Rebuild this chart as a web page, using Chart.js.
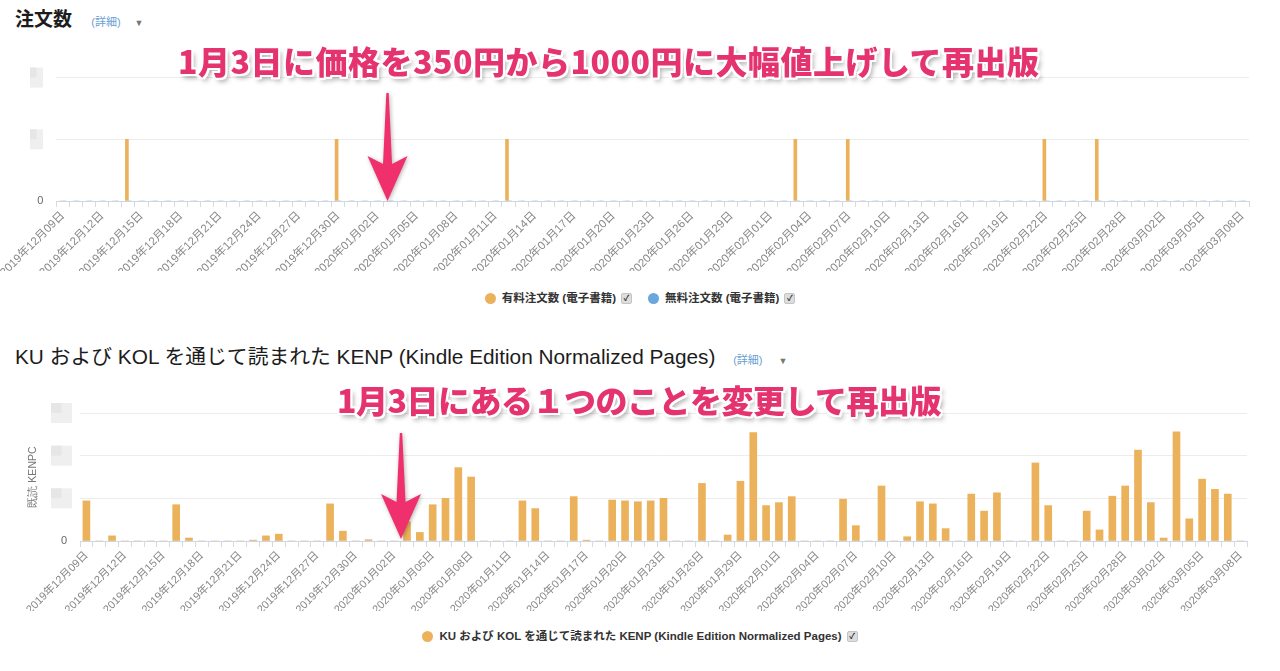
<!DOCTYPE html>
<html lang="ja">
<head>
  <meta charset="UTF-8">
  <title>注文数 / KENP</title>
  <script src="https://cdn.jsdelivr.net/npm/chart.js"></script>
  <style>
    body {
      margin: 0;
      width: 1280px;
      height: 671px;
      position: relative;
      overflow: hidden;
      background: #fff;
      font-family: "Liberation Sans", "Noto Sans CJK JP", sans-serif;
    }
    canvas { position: absolute; left: 0; }
    .title {
      position: absolute;
      left: 15px;
      color: #1c1c1c;
      white-space: nowrap;
    }
    .title .more { font-size: 11px; color: #6a9fd4; font-weight: normal; }
    .title .caret { font-size: 9px; color: #777; font-weight: normal; }
    .note {
      position: absolute;
      z-index: 2;
      white-space: nowrap;
      font-family: "Noto Sans CJK JP", sans-serif;
      font-weight: 900;
      font-size: 32px;
      line-height: 40px;
      color: #e4336f;
      text-shadow: 2px 0 0 #fff, -2px 0 0 #fff, 0 2px 0 #fff, 0 -2px 0 #fff,
                   2px 2px 0 #fff, -2px -2px 0 #fff, 2px -2px 0 #fff, -2px 2px 0 #fff,
                   3px 4px 5px rgba(0,0,0,0.35);
    }
    .legend {
      position: absolute;
      left: 0;
      width: 1280px;
      display: flex;
      justify-content: center;
      gap: 16px;
      font-size: 11.5px;
      font-weight: bold;
      color: #333;
      line-height: 16px;
    }
    .legend span.item { display: flex; align-items: center; }
    .legend .dot { width: 11px; height: 11px; border-radius: 50%; margin-right: 6px; }
    .legend .box {
      width: 9px; height: 9px; margin-left: 5px;
      background: #ddd; border: 1px solid #c4c4c4; border-radius: 2px;
      font-size: 8px; line-height: 9px; text-align: center; color: #333;
    }
  </style>
</head>
<body>
  <div class="title" style="top:7px;font-size:19px;font-weight:bold;line-height:26px;">注文数
    <span class="more" style="margin-left:14px;">(詳細)</span><span class="caret" style="margin-left:14px;">▼</span></div>
  <div class="note" style="left:178px;top:40px;letter-spacing:0.5px;">1月3日に価格を350円から1000円に大幅値上げして再出版</div>
  <canvas id="ordersChart" width="1280" height="213" style="top:58px;"></canvas>
  <div class="legend" id="ordersLegend" style="top:290px;"></div>

  <div class="title" style="top:343px;font-size:20.8px;line-height:28px;">KU および KOL を通じて読まれた KENP (Kindle Edition Normalized Pages)
    <span class="more" style="margin-left:12px;">(詳細)</span><span class="caret" style="margin-left:16px;">▼</span></div>
  <div class="note" style="left:337px;top:379px;letter-spacing:-0.5px;">1月3日にある１つのことを変更して再出版</div>
  <canvas id="kenpChart" width="1280" height="221" style="top:390px;"></canvas>
  <div class="legend" id="kenpLegend" style="top:628px;"></div>

  <script>
    // days shown on both charts: 2019-12-09 .. 2020-03-08
    const firstDay = [2019, 12, 9];
    const dayCount = 91;
    const changeDay = '2020年01月03日';

    // 注文数 (one row = 10 days)
    const paidOrders = [
      0, 0, 0, 0, 0, 1, 0, 0, 0, 0,
      0, 0, 0, 0, 0, 0, 0, 0, 0, 0,
      0, 1, 0, 0, 0, 0, 0, 0, 0, 0,
      0, 0, 0, 0, 1, 0, 0, 0, 0, 0,
      0, 0, 0, 0, 0, 0, 0, 0, 0, 0,
      0, 0, 0, 0, 0, 0, 1, 0, 0, 0,
      1, 0, 0, 0, 0, 0, 0, 0, 0, 0,
      0, 0, 0, 0, 0, 1, 0, 0, 0, 1,
      0, 0, 0, 0, 0, 0, 0, 0, 0, 0,
      0
    ];
    const freeOrders = [
      0, 0, 0, 0, 0, 0, 0, 0, 0, 0,
      0, 0, 0, 0, 0, 0, 0, 0, 0, 0,
      0, 0, 0, 0, 0, 0, 0, 0, 0, 0,
      0, 0, 0, 0, 0, 0, 0, 0, 0, 0,
      0, 0, 0, 0, 0, 0, 0, 0, 0, 0,
      0, 0, 0, 0, 0, 0, 0, 0, 0, 0,
      0, 0, 0, 0, 0, 0, 0, 0, 0, 0,
      0, 0, 0, 0, 0, 0, 0, 0, 0, 0,
      0, 0, 0, 0, 0, 0, 0, 0, 0, 0,
      0
    ];

    // 既読 KENPC (y labels are blurred in the source, units are relative)
    const kenpPages = [
      94, 0, 12, 0, 0, 0, 0, 85, 7, 0,
      0, 0, 0, 2, 12, 16, 0, 0, 0, 87,
      23, 0, 3, 0, 0, 45, 20, 85, 100, 172,
      150, 0, 0, 0, 94, 76, 0, 0, 104, 2,
      0, 96, 94, 92, 94, 100, 0, 0, 135, 0,
      14, 140, 254, 83, 90, 104, 0, 0, 0, 98,
      36, 0, 129, 0, 10, 92, 87, 29, 0, 110,
      70, 113, 0, 0, 183, 83, 0, 0, 70, 26,
      105, 129, 213, 90, 7, 256, 52, 145, 121, 110,
      0
    ];

    const ordersTicks = [0, 1, 2];
    const kenpTicks = [0, 100, 200, 300];

    const seriesNames = {
      paid: '有料注文数 (電子書籍)',
      free: '無料注文数 (電子書籍)',
      kenp: 'KU および KOL を通じて読まれた KENP (Kindle Edition Normalized Pages)'
    };
    const orange = '#ebb25b';
    const blue = '#6aa7dc';

    const pad = n => String(n).padStart(2, '0');
    const dates = [];
    for (let i = 0; i < dayCount; i++) {
      const d = new Date(Date.UTC(firstDay[0], firstDay[1] - 1, firstDay[2] + i));
      dates.push(d.getUTCFullYear() + '年' + pad(d.getUTCMonth() + 1) + '月' + pad(d.getUTCDate()) + '日');
    }

    // blurred y tick labels + pink arrow
    const decorPlugin = {
      id: 'decor',
      afterDraw(chart, args, opts) {
        const ctx = chart.ctx;
        const ys = chart.scales.y;
        ctx.save();
        ys.ticks.forEach(t => {
          if (t.value === 0) return;
          const py = ys.getPixelForValue(t.value);
          ctx.fillStyle = '#efefef';
          ctx.fillRect(opts.boxX, py - 10, opts.boxW, 20);
          ctx.fillStyle = '#e6e6e6';
          ctx.fillRect(opts.boxX, py - 10, opts.boxW / 2, 10);
        });

        const x = chart.scales.x.getPixelForValue(dates.indexOf(changeDay)) + opts.arrowDx;
        const tip = ys.getPixelForValue(0) + opts.arrowDy;
        const top = tip - opts.arrowLen;
        ctx.shadowColor = 'rgba(0,0,0,0.3)';
        ctx.shadowBlur = 4;
        ctx.shadowOffsetX = 1;
        ctx.shadowOffsetY = 1;
        ctx.fillStyle = '#f0306c';
        ctx.beginPath();
        ctx.moveTo(x, tip);
        ctx.lineTo(x + 20, tip - 45);
        ctx.lineTo(x + 4.5, tip - 37);
        ctx.lineTo(x + 1.2, top);
        ctx.lineTo(x - 1.2, top);
        ctx.lineTo(x - 4.5, tip - 37);
        ctx.lineTo(x - 20, tip - 45);
        ctx.closePath();
        ctx.fill();
        ctx.restore();
      }
    };

    function xAxis(fontSize) {
      return {
        type: 'category',
        offset: true,
        grid: { offset: true, drawOnChartArea: false, drawTicks: true, tickLength: 6, color: '#d5dbe5' },
        border: { display: true, color: '#ccd6eb' },
        ticks: {
          autoSkip: false,
          minRotation: 45,
          maxRotation: 45,
          padding: 2,
          color: '#888',
          font: { size: fontSize, family: '"Liberation Sans", "Noto Sans CJK JP", sans-serif' },
          callback: (v, i) => (i % 3 === 0 ? dates[i] : '')
        },
        afterFit: s => { s.height = 70; }
      };
    }

    function yAxis(ticks, width, padding) {
      return {
        min: ticks[0],
        max: ticks[ticks.length - 1],
        afterBuildTicks: s => { s.ticks = ticks.map(v => ({ value: v })); },
        grid: { color: '#ececec', drawTicks: false },
        border: { display: false },
        ticks: {
          padding: padding,
          color: '#666',
          font: { size: 11 },
          callback: v => (v === 0 ? '0' : '')
        },
        afterFit: s => { s.width = width; }
      };
    }

    const ordersChart = new Chart(document.getElementById('ordersChart'), {
      type: 'bar',
      data: {
        labels: dates,
        datasets: [
          { label: seriesNames.paid, data: paidOrders, backgroundColor: orange, barThickness: 3 },
          { label: seriesNames.free, data: freeOrders, backgroundColor: blue, barThickness: 3 }
        ]
      },
      options: {
        responsive: false,
        animation: false,
        devicePixelRatio: 1,
        layout: { padding: { top: 17, right: 31, left: 0, bottom: 0 } },
        plugins: {
          legend: { display: false },
          tooltip: { enabled: false },
          decor: { boxX: 30, boxW: 13, arrowDx: -3, arrowDy: 0, arrowLen: 108 }
        },
        scales: { x: xAxis(11.5), y: yAxis(ordersTicks, 53, 13) }
      },
      plugins: [decorPlugin]
    });

    const kenpChart = new Chart(document.getElementById('kenpChart'), {
      type: 'bar',
      data: {
        labels: dates,
        datasets: [
          { label: seriesNames.kenp, data: kenpPages, backgroundColor: orange, barThickness: 7 }
        ]
      },
      options: {
        responsive: false,
        animation: false,
        devicePixelRatio: 1,
        layout: { padding: { top: 23, right: 33, left: 0, bottom: 0 } },
        plugins: {
          legend: { display: false },
          tooltip: { enabled: false },
          decor: { boxX: 51, boxW: 21, arrowDx: -6, arrowDy: -2, arrowLen: 106 }
        },
        scales: {
          x: xAxis(11),
          y: Object.assign(yAxis(kenpTicks, 80, 13), {
            title: {
              display: true,
              text: '既読 KENPC',
              color: '#777',
              font: { size: 10.5 },
              padding: { top: 27, bottom: 0 }
            }
          })
        }
      },
      plugins: [decorPlugin]
    });

    function buildLegend(chart, id) {
      const el = document.getElementById(id);
      chart.data.datasets.forEach(ds => {
        const item = document.createElement('span');
        item.className = 'item';
        item.innerHTML = '<span class="dot" style="background:' + ds.backgroundColor + '"></span>' +
          ds.label + '<span class="box">✓</span>';
        el.appendChild(item);
      });
    }
    buildLegend(ordersChart, 'ordersLegend');
    buildLegend(kenpChart, 'kenpLegend');
  </script>
</body>
</html>
